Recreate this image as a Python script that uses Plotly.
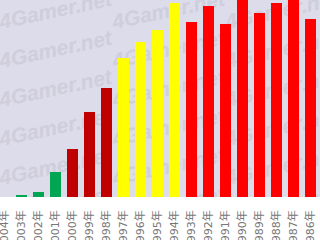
import plotly.graph_objects as go

years = ["2004年", "2003年", "2002年", "2001年", "2000年", "1999年", "1998年",
         "1997年", "1996年", "1995年", "1994年", "1993年", "1992年", "1991年",
         "1990年", "1989年", "1988年", "1987年", "1986年"]
values = [0, 2, 5, 25, 48, 85, 109, 139, 155, 167, 194, 175, 191, 173, 205, 184, 194, 205, 178]
colors = ["#00a651"] * 4 + ["#c00000"] * 3 + ["#ffff00"] * 4 + ["#ff0000"] * 8

wm_text = "4Gamer.net"
wm_cols = [55, 168, 281]
wm_rows = [8, 47, 86, 125, 164, 203]

W, H, PB = 320, 240, 197
n = len(years)
spacing = 17.0
first_center = 4.5
r0 = -first_center / spacing
r1 = r0 + W / spacing

fig = go.Figure()
fig.add_trace(go.Bar(x=list(range(n)), y=values, marker=dict(color=colors, line=dict(width=0)),
                     hoverinfo="skip"))

shapes = []
for cx in wm_cols:
    for cy in wm_rows:
        xd = r0 + cx / spacing
        yd = PB - cy
        shapes.append(dict(type="rect", xref="x", yref="y", x0=xd - 0.01, x1=xd + 0.01,
                           y0=yd - 0.5, y1=yd + 0.5, layer="below",
                           line=dict(width=0), fillcolor="rgba(0,0,0,0)",
                           label=dict(text=wm_text, textangle=-12, textposition="middle center",
                                      font=dict(family="Liberation Sans", size=21,
                                                color="#cfcedc", weight="bold", style="italic"))))

fig.update_layout(
    width=W, height=H,
    margin=dict(l=0, r=0, t=0, b=H - PB, pad=0, autoexpand=False),
    paper_bgcolor="white", plot_bgcolor="#dddcea",
    bargap=1 - 11 / 17,
    showlegend=False,
    shapes=shapes,
    xaxis=dict(range=[r0, r1], tickmode="array", tickvals=list(range(n)), ticktext=years,
               tickangle=-90, ticks="", showgrid=False, zeroline=False, showline=False,
               automargin=False, ticklabeloverflow="allow",
               tickfont=dict(family="DejaVu Sans, Noto Sans CJK JP", size=11, color="#777777"),
               ticklabelstandoff=10),
    yaxis=dict(range=[0, PB], showgrid=False, zeroline=False, showticklabels=False,
               showline=False, ticks="", automargin=False),
)

fig.write_html("out.html", config={"displayModeBar": False})
